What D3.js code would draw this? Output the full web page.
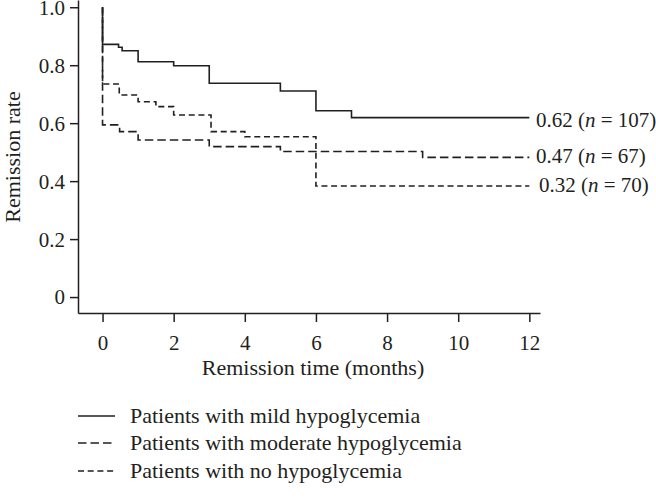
<!DOCTYPE html>
<html>
<head>
<meta charset="utf-8">
<script src="https://cdnjs.cloudflare.com/ajax/libs/d3/7.8.5/d3.min.js"></script>
<style>
  body { margin: 0; background: #fff; }
  svg text { font-family: "Liberation Serif", "Times New Roman", serif; fill: #231f20; }
  .axis path, .axis line { stroke: #231f20; stroke-width: 1.5px; }
</style>
</head>
<body>
<div id="chart"></div>
<script>
// step points (time in months, remission rate)
var mildTime = [0, 0, 0.45, 0.55, 1, 2, 3, 5, 6, 7, 12];
var mildRate = [1.0, 0.872, 0.862, 0.85, 0.812, 0.798, 0.738, 0.711, 0.643, 0.619, 0.619];

var moderateTime = [0, 0, 0.48, 1, 3, 5, 9, 12];
var moderateRate = [1.0, 0.594, 0.571, 0.542, 0.519, 0.502, 0.482, 0.482];

var noneTime = [0, 0, 0.47, 1, 1.5, 2, 3.05, 4, 6, 12];
var noneRate = [1.0, 0.735, 0.697, 0.674, 0.657, 0.628, 0.571, 0.553, 0.383, 0.383];

var endRates = ["0.62", "0.47", "0.32"];
var endN = ["107", "67", "70"];
var legendNames = ["Patients with mild hypoglycemia",
                   "Patients with moderate hypoglycemia",
                   "Patients with no hypoglycemia"];
var xTicks = [0, 2, 4, 6, 8, 10, 12];
var yTicks = [0, 0.2, 0.4, 0.6, 0.8, 1.0];

var width = 656, height = 503;
var dashes = [null, "8.5,4", "6,3.7"];

var svg = d3.select("#chart").append("svg")
    .attr("width", width)
    .attr("height", height);

var x = d3.scaleLinear().domain([-0.69, 12.3]).range([78, 540]);
var y = d3.scaleLinear().domain([-0.055, 1.025]).range([313, 0]);

// axes
var xAxis = svg.append("g").attr("class", "axis")
    .attr("transform", "translate(0,313)")
    .call(d3.axisBottom(x).tickValues(xTicks).tickSize(9).tickSizeOuter(0));
xAxis.selectAll("text")
    .attr("y", 0).attr("dy", null)
    .attr("transform", "translate(0,350)")
    .attr("font-size", "21px");
xAxis.selectAll("text").attr("transform", null).attr("y", 37);

var yAxis = svg.append("g").attr("class", "axis")
    .attr("transform", "translate(78,0)")
    .call(d3.axisLeft(y).tickValues(yTicks).tickSize(8).tickSizeOuter(0)
        .tickFormat(function(d) { return d === 0 ? "0" : d.toFixed(1); }));
yAxis.selectAll("text")
    .attr("x", -13)
    .attr("dy", "0.33em")
    .attr("font-size", "21px");
svg.selectAll(".axis text").style("font-family", "Liberation Serif").attr("fill", "#231f20");

svg.append("text")
    .attr("x", 313).attr("y", 375)
    .attr("text-anchor", "middle")
    .attr("font-size", "22px")
    .text("Remission time (months)");

svg.append("text")
    .attr("transform", "translate(20,157) rotate(-90)")
    .attr("text-anchor", "middle")
    .attr("font-size", "22px")
    .text("Remission rate");

// curves
var series = [
    d3.zip(mildTime, mildRate),
    d3.zip(moderateTime, moderateRate),
    d3.zip(noneTime, noneRate)
];

var line = d3.line()
    .x(function(d) { return x(d[0]); })
    .y(function(d) { return y(d[1]); })
    .curve(d3.curveStepAfter);

svg.selectAll(".km")
    .data(series)
    .enter()
        .append("path").attr("class", "km")
        .attr("d", line)
        .attr("fill", "none")
        .attr("stroke", "#231f20")
        .attr("stroke-width", 1.6)
        .attr("stroke-dasharray", function(d, i) { return dashes[i]; });

// end labels
var labelX = [536, 536, 539];
var labelY = [127, 163, 192];
endRates.forEach(function(r, i) {
    var t = svg.append("text")
        .attr("x", labelX[i]).attr("y", labelY[i])
        .attr("font-size", "21px");
    t.append("tspan").text(r + " (");
    t.append("tspan").attr("font-style", "italic").text("n");
    t.append("tspan").text(" = " + endN[i] + ")");
});

// legend
var legendY = [416, 443, 471];
legendNames.forEach(function(name, i) {
    svg.append("line")
        .attr("x1", 78).attr("x2", 115)
        .attr("y1", legendY[i]).attr("y2", legendY[i])
        .attr("stroke", "#231f20")
        .attr("stroke-width", 1.6)
        .attr("stroke-dasharray", dashes[i]);
    svg.append("text")
        .attr("x", 130).attr("y", legendY[i] + 7)
        .attr("font-size", "22px")
        .text(name);
});
</script>
</body>
</html>
